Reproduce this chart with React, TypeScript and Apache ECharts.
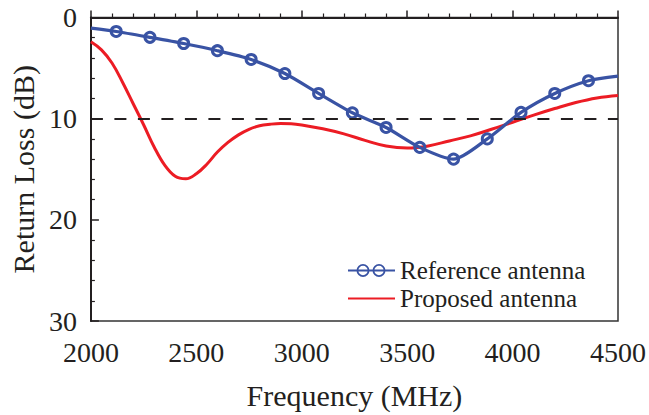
import React, { useEffect, useRef } from "react";
import * as echarts from "echarts";

// Reference antenna (blue, circle markers) — frequency (MHz) / return loss (dB)
const refFreq = [2000, 2120, 2280, 2440, 2600, 2760, 2920, 3080, 3240, 3400, 3560, 3720, 3880, 4040, 4200, 4360, 4500];
const refLoss = [1.05, 1.38, 1.96, 2.57, 3.28, 4.15, 5.54, 7.51, 9.42, 10.87, 12.84, 14.0, 12.0, 9.38, 7.51, 6.25, 5.8];

// Proposed antenna (red)
const propFreq = [2000, 2050, 2100, 2150, 2200, 2250, 2300, 2350, 2400, 2450, 2500, 2550, 2600, 2650, 2700, 2750, 2800, 2850, 2900, 2950, 3000, 3100, 3200, 3300, 3400, 3500, 3600, 3700, 3800, 3900, 4000, 4100, 4200, 4300, 4400, 4500];
const propLoss = [2.4, 3.2, 4.5, 6.4, 8.5, 10.6, 12.8, 14.6, 15.7, 15.95, 15.45, 14.5, 13.3, 12.35, 11.6, 11.05, 10.7, 10.55, 10.48, 10.5, 10.62, 11.0, 11.5, 12.15, 12.7, 12.9, 12.7, 12.2, 11.7, 11.05, 10.35, 9.65, 9.0, 8.4, 7.95, 7.7];

const threshold = 10;
const seriesNames = ["Reference antenna", "Proposed antenna"];
const xAxisTitle = "Frequency (MHz)";
const yAxisTitle = "Return Loss (dB)";

const BLUE = "#3953a4";
const RED = "#ec1c24";
const INK = "#231f20";
const FONT = "'Liberation Serif', 'Times New Roman', serif";

const blueIcon =
  "path://M0 5.5 L47 5.5 L47 7.5 L0 7.5 Z " +
  "M8.5 6.5 A6.5 6.5 0 1 1 21.5 6.5 A6.5 6.5 0 1 1 8.5 6.5 Z " +
  "M10.3 6.5 A4.7 4.7 0 1 0 19.7 6.5 A4.7 4.7 0 1 0 10.3 6.5 Z " +
  "M24.5 6.5 A6.5 6.5 0 1 1 37.5 6.5 A6.5 6.5 0 1 1 24.5 6.5 Z " +
  "M26.3 6.5 A4.7 4.7 0 1 0 35.7 6.5 A4.7 4.7 0 1 0 26.3 6.5 Z";
const redIcon = "path://M0 0 L47 0 L47 2 L0 2 Z";

export default function App() {
  const ref = useRef<HTMLDivElement>(null);
  useEffect(() => {
    if (!ref.current) return;
    const chart = echarts.init(ref.current, undefined, { renderer: "svg" });
    const refData = refFreq.map((f, i) => {
      const item: any = { value: [f, refLoss[i]] };
      if (i === 0 || i === refFreq.length - 1) item.symbol = "none";
      return item;
    });
    const propData = propFreq.map((f, i) => [f, propLoss[i]]);
    const axisTickStyle = { color: INK, width: 1.5 };
    chart.setOption({
      animation: false,
      backgroundColor: "#ffffff",
      textStyle: { fontFamily: FONT, color: INK },
      grid: {
        left: 88.5,
        top: 17.5,
        right: 31,
        bottom: 88,
        show: true,
        borderColor: "#333333",
        borderWidth: 1.5,
        backgroundColor: "transparent",
      },
      legend: {
        orient: "vertical",
        left: 348,
        top: 258,
        padding: 0,
        itemWidth: 47,
        itemHeight: 13,
        itemGap: 3,
        symbolKeepAspect: true,
        textStyle: { fontFamily: FONT, fontSize: 25, color: INK },
        data: [
          { name: seriesNames[0], icon: blueIcon, itemStyle: { color: BLUE, borderWidth: 0 } },
          { name: seriesNames[1], icon: redIcon, itemStyle: { color: RED, borderWidth: 0 } },
        ],
      },
      xAxis: {
        type: "value",
        min: 2000,
        max: 4500,
        interval: 500,
        name: xAxisTitle,
        nameLocation: "middle",
        nameGap: 59,
        nameTextStyle: { fontFamily: FONT, fontSize: 30, color: INK },
        axisLine: { show: true, lineStyle: { color: INK, width: 2 } },
        axisTick: { show: true, inside: true, length: 7, lineStyle: axisTickStyle },
        minorTick: { show: true, splitNumber: 5, length: 4, lineStyle: { color: INK, width: 1.2 } },
        splitLine: { show: false },
        axisLabel: {
          fontFamily: FONT,
          fontSize: 28,
          color: INK,
          margin: 17,
          formatter: (v: number) => String(v),
        },
      },
      yAxis: {
        type: "value",
        inverse: true,
        min: 0,
        max: 30,
        interval: 10,
        name: yAxisTitle,
        nameLocation: "middle",
        nameGap: 49,
        nameRotate: 90,
        nameTextStyle: { fontFamily: FONT, fontSize: 30, color: INK },
        axisLine: { show: true, lineStyle: { color: INK, width: 2 } },
        axisTick: { show: true, inside: true, length: 8, lineStyle: axisTickStyle },
        minorTick: { show: true, splitNumber: 5, length: 4, lineStyle: { color: INK, width: 1.2 } },
        splitLine: { show: false },
        axisLabel: {
          fontFamily: FONT,
          fontSize: 28,
          color: INK,
          margin: 14,
          formatter: (v: number) => String(v),
        },
      },
      series: [
        {
          name: seriesNames[0],
          type: "line",
          data: refData,
          smooth: 0.25,
          symbol: "circle",
          symbolSize: 10,
          showAllSymbol: true,
          z: 3,
          lineStyle: { color: BLUE, width: 3.2 },
          itemStyle: { color: "rgba(255,255,255,0)", borderColor: BLUE, borderWidth: 3 },
        },
        {
          name: seriesNames[1],
          type: "line",
          data: propData,
          smooth: 0.4,
          symbol: "none",
          z: 2,
          lineStyle: { color: RED, width: 3 },
          itemStyle: { color: RED },
          markLine: {
            silent: true,
            symbol: "none",
            label: { show: false },
            lineStyle: { color: INK, width: 2, type: [12, 11.5] },
            data: [{ yAxis: threshold }],
          },
        },
      ],
    });
    return () => chart.dispose();
  }, []);
  return (
    <div
      ref={ref}
      style={{ position: "fixed", left: 0, top: 0, width: 649, height: 415, background: "#fff" }}
    />
  );
}
